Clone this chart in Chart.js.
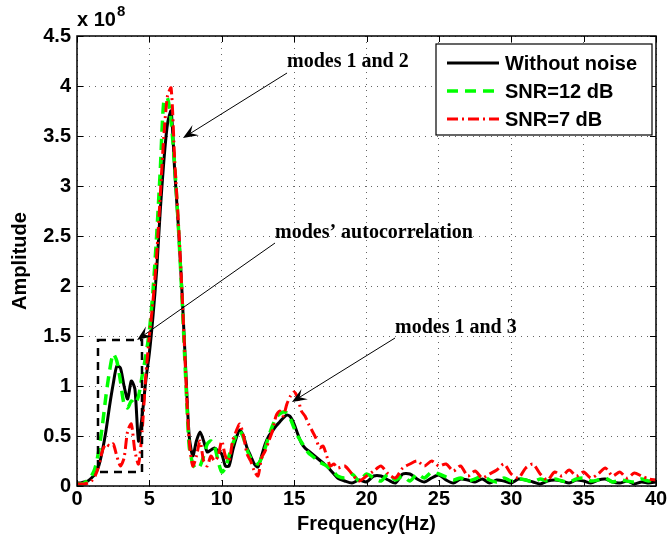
<!DOCTYPE html>
<html>
<head>
<meta charset="utf-8">
<script src="https://cdn.jsdelivr.net/npm/chart.js@4.4.1/dist/chart.umd.min.js"></script>
<style>
  html, body { margin: 0; padding: 0; background: #fff; }
  #wrap { width: 669px; height: 549px; }
</style>
</head>
<body>
<div id="wrap"><canvas id="spectrumChart" width="669" height="549"></canvas></div>
<script>
// frequency axis (Hz)
const freq = [0,0.25,0.5,0.75,1,1.25,1.5,1.75,2,2.25,2.5,2.75,3,3.25,3.5,3.75,4,4.25,4.5,4.75,
  5,5.25,5.5,5.75,6,6.25,6.5,6.75,7,7.25,7.5,7.75,8,8.25,8.5,8.75,9,9.25,9.5,9.75,
  10,10.25,10.5,10.75,11,11.25,11.5,11.75,12,12.25,12.5,12.75,13,13.25,13.5,13.75,14,14.25,14.5,14.75,
  15,15.25,15.5,15.75,16,16.25,16.5,16.75,17,17.25,17.5,17.75,18,
  18.5,19,19.5,20,20.5,21,21.5,22,22.5,23,23.5,24,24.5,25,25.5,26,26.5,27,27.5,28,
  28.5,29,29.5,30,30.5,31,31.5,32,32.5,33,33.5,34,34.5,35,35.5,36,36.5,37,37.5,38,38.5,39,39.5,40];

// amplitudes in units of 1e8
const withoutNoise = [0.03,0.03,0.04,0.05,0.08,0.12,0.2,0.35,0.55,0.8,1.02,1.2,1.18,1.0,0.87,1.05,0.97,0.45,0.7,1.05,
  1.33,1.7,2.15,2.75,3.25,3.62,3.75,3.15,2.6,1.95,1.2,0.5,0.3,0.45,0.54,0.45,0.34,0.36,0.38,0.35,
  0.32,0.2,0.2,0.35,0.48,0.56,0.5,0.38,0.3,0.22,0.19,0.3,0.42,0.5,0.55,0.6,0.64,0.68,0.71,0.69,
  0.62,0.52,0.43,0.38,0.35,0.32,0.29,0.26,0.23,0.2,0.16,0.12,0.08,
  0.05,0.03,0.06,0.04,0.1,0.1,0.06,0.03,0.12,0.12,0.07,0.04,0.08,0.11,0.06,0.03,0.07,0.06,0.04,0.07,
  0.03,0.06,0.05,0.03,0.07,0.06,0.04,0.02,0.05,0.06,0.05,0.03,0.06,0.05,0.03,0.06,0.07,0.04,0.03,0.05,0.02,0.04,0.03,0.04];

const snr12 = [0.02,0.02,0.03,0.06,0.1,0.18,0.35,0.6,0.9,1.15,1.32,1.25,1.05,0.82,0.78,0.85,0.82,0.9,1.1,1.3,
  1.55,1.95,2.5,3.15,3.85,3.88,3.65,3.2,2.6,1.9,1.1,0.4,0.22,0.17,0.2,0.3,0.42,0.45,0.4,0.25,
  0.14,0.18,0.3,0.42,0.5,0.55,0.48,0.36,0.28,0.24,0.22,0.28,0.38,0.5,0.6,0.68,0.72,0.74,0.73,0.67,
  0.58,0.5,0.44,0.38,0.33,0.3,0.27,0.24,0.22,0.2,0.17,0.14,0.1,
  0.08,0.12,0.05,0.12,0.08,0.05,0.12,0.06,0.1,0.05,0.12,0.08,0.14,0.12,0.09,0.06,0.08,0.05,0.07,0.1,
  0.06,0.04,0.08,0.05,0.07,0.06,0.04,0.07,0.05,0.07,0.05,0.04,0.07,0.08,0.05,0.06,0.08,0.04,0.06,0.05,0.04,0.07,0.05,0.07];

const snr7 = [0.02,0.02,0.02,0.03,0.05,0.1,0.2,0.35,0.42,0.4,0.42,0.3,0.2,0.28,0.55,0.62,0.35,0.22,0.55,1.1,
  1.5,1.85,2.3,2.9,3.5,3.9,3.98,3.25,2.65,1.95,1.15,0.45,0.2,0.3,0.45,0.25,0.2,0.3,0.25,0.3,
  0.45,0.3,0.25,0.45,0.55,0.62,0.5,0.32,0.25,0.15,0.1,0.28,0.35,0.45,0.55,0.7,0.75,0.7,0.82,0.9,
  0.94,0.88,0.75,0.7,0.62,0.55,0.48,0.38,0.4,0.3,0.2,0.22,0.18,
  0.2,0.12,0.05,0.1,0.15,0.2,0.12,0.08,0.18,0.22,0.25,0.2,0.25,0.2,0.22,0.15,0.2,0.1,0.15,0.08,
  0.12,0.16,0.22,0.12,0.08,0.18,0.22,0.12,0.06,0.14,0.1,0.16,0.1,0.14,0.08,0.12,0.18,0.1,0.14,0.08,0.13,0.1,0.07,0.06];

const seriesNames = ['Without noise', 'SNR=12 dB', 'SNR=7 dB'];
const xTicks = [0, 5, 10, 15, 20, 25, 30, 35, 40];
const yTicks = [0, 0.5, 1, 1.5, 2, 2.5, 3, 3.5, 4, 4.5];

// annotation text + arrows, in data units
const notes = [
  { text: 'modes 1 and 2', tx: 14.51, ty: 4.24, from: [14.51, 4.13], to: [7.32, 3.48] },
  { text: 'modes\u2019 autocorrelation', tx: 13.68, ty: 2.53, from: [13.68, 2.43], to: [4.15, 1.46] },
  { text: 'modes 1 and 3', tx: 21.97, ty: 1.58, from: [21.97, 1.48], to: [14.85, 0.84] }
];
const boxRegion = { x0: 1.45, x1: 4.49, y0: 0.14, y1: 1.46 };

const sansBold = 'bold 20px "Liberation Sans", Arial, Helvetica, sans-serif';
const serifBold = 'bold 20px "Liberation Serif", "Times New Roman", serif';

function pts(ys) {
  return freq.map((f, i) => ({ x: f, y: ys[i] }));
}

const styles = [
  { color: '#000000', width: 3, dash: [] },
  { color: '#00ff00', width: 3.5, dash: [11, 7] },
  { color: '#ff0000', width: 3, dash: [11, 4, 2, 4] }
];

function arrow(ctx, x1, y1, x2, y2) {
  const ang = Math.atan2(y2 - y1, x2 - x1);
  const len = 15, half = 6;
  ctx.save();
  ctx.strokeStyle = '#000';
  ctx.lineWidth = 1;
  ctx.setLineDash([]);
  ctx.beginPath();
  ctx.moveTo(x1, y1);
  ctx.lineTo(x2 - Math.cos(ang) * 8, y2 - Math.sin(ang) * 8);
  ctx.stroke();
  ctx.translate(x2, y2);
  ctx.rotate(ang);
  ctx.fillStyle = '#000';
  ctx.beginPath();
  ctx.moveTo(0, 0);
  ctx.lineTo(-len, -half);
  ctx.lineTo(-len * 0.6, 0);
  ctx.lineTo(-len, half);
  ctx.closePath();
  ctx.fill();
  ctx.restore();
}

const overlay = {
  id: 'overlay',
  afterDraw(chart) {
    const ctx = chart.ctx;
    const a = chart.chartArea;
    const xs = chart.scales.x, ys = chart.scales.y;

    // dashed region box
    ctx.save();
    ctx.strokeStyle = '#000';
    ctx.lineWidth = 2.5;
    ctx.setLineDash([8, 6]);
    const bx0 = xs.getPixelForValue(boxRegion.x0), bx1 = xs.getPixelForValue(boxRegion.x1);
    const by0 = ys.getPixelForValue(boxRegion.y0), by1 = ys.getPixelForValue(boxRegion.y1);
    ctx.strokeRect(bx0, by1, bx1 - bx0, by0 - by1);
    ctx.restore();

    // annotations
    notes.forEach(n => {
      arrow(ctx, xs.getPixelForValue(n.from[0]), ys.getPixelForValue(n.from[1]),
        xs.getPixelForValue(n.to[0]), ys.getPixelForValue(n.to[1]));
      ctx.save();
      ctx.font = serifBold;
      ctx.fillStyle = '#000';
      ctx.textBaseline = 'middle';
      ctx.textAlign = 'left';
      ctx.fillText(n.text, xs.getPixelForValue(n.tx), ys.getPixelForValue(n.ty));
      ctx.restore();
    });

    // axes box and inward ticks
    ctx.save();
    ctx.strokeStyle = '#000';
    ctx.lineWidth = 1.5;
    ctx.setLineDash([]);
    ctx.strokeRect(a.left, a.top, a.right - a.left, a.bottom - a.top);
    ctx.lineWidth = 1;
    ctx.beginPath();
    xTicks.forEach(v => {
      const px = Math.round(xs.getPixelForValue(v)) + 0.5;
      ctx.moveTo(px, a.bottom); ctx.lineTo(px, a.bottom - 6);
      ctx.moveTo(px, a.top); ctx.lineTo(px, a.top + 6);
    });
    yTicks.forEach(v => {
      const py = Math.round(ys.getPixelForValue(v)) + 0.5;
      ctx.moveTo(a.left, py); ctx.lineTo(a.left + 6, py);
      ctx.moveTo(a.right, py); ctx.lineTo(a.right - 6, py);
    });
    ctx.stroke();
    ctx.restore();

    // legend
    const lx = 436, ly = 44, lw = 216, lh = 91;
    ctx.save();
    ctx.fillStyle = '#fff';
    ctx.fillRect(lx, ly, lw, lh);
    ctx.strokeStyle = '#000';
    ctx.lineWidth = 1.2;
    ctx.strokeRect(lx, ly, lw, lh);
    const rows = [63, 91, 119];
    seriesNames.forEach((name, i) => {
      ctx.strokeStyle = styles[i].color;
      ctx.lineWidth = styles[i].width;
      ctx.setLineDash(styles[i].dash);
      ctx.beginPath();
      ctx.moveTo(447, rows[i]);
      ctx.lineTo(499, rows[i]);
      ctx.stroke();
      ctx.setLineDash([]);
      ctx.fillStyle = '#000';
      ctx.font = sansBold;
      ctx.textBaseline = 'middle';
      ctx.fillText(name, 505, rows[i] + 1);
    });
    ctx.restore();

    // axis titles and exponent
    ctx.save();
    ctx.fillStyle = '#000';
    ctx.font = sansBold;
    ctx.textAlign = 'center';
    ctx.textBaseline = 'middle';
    ctx.fillText('Frequency(Hz)', (a.left + a.right) / 2, 524);
    ctx.translate(20, (a.top + a.bottom) / 2);
    ctx.rotate(-Math.PI / 2);
    ctx.fillText('Amplitude', 0, 0);
    ctx.restore();

    ctx.save();
    ctx.fillStyle = '#000';
    ctx.font = sansBold;
    ctx.textAlign = 'left';
    ctx.textBaseline = 'alphabetic';
    ctx.fillText('x 10', 77, 26);
    const w = ctx.measureText('x 10').width;
    ctx.font = 'bold 15px "Liberation Sans", Arial, sans-serif';
    ctx.fillText('8', 77 + w + 1, 16);
    ctx.restore();
  }
};

const tickFont = { family: '"Liberation Sans", Arial, sans-serif', size: 20, weight: 'bold' };

const ctx = document.getElementById('spectrumChart').getContext('2d');
new Chart(ctx, {
  type: 'line',
  data: {
    datasets: [
      { label: seriesNames[0], data: pts(withoutNoise), borderColor: styles[0].color, borderWidth: styles[0].width,
        borderDash: styles[0].dash, order: 3 },
      { label: seriesNames[1], data: pts(snr12), borderColor: styles[1].color, borderWidth: styles[1].width,
        borderDash: styles[1].dash, order: 2 },
      { label: seriesNames[2], data: pts(snr7), borderColor: styles[2].color, borderWidth: styles[2].width,
        borderDash: styles[2].dash, order: 1 }
    ]
  },
  options: {
    responsive: false,
    animation: false,
    devicePixelRatio: 1,
    layout: { padding: { top: 36, right: 13, left: 0, bottom: 0 } },
    elements: {
      point: { radius: 0, hoverRadius: 0 },
      line: { tension: 0.25, fill: false, borderJoinStyle: 'round' }
    },
    plugins: {
      legend: { display: false },
      tooltip: { enabled: false }
    },
    scales: {
      x: {
        type: 'linear', min: 0, max: 40,
        afterFit(scale) { scale.height = 63; },
        afterBuildTicks(scale) { scale.ticks = xTicks.map(v => ({ value: v })); },
        border: { display: false, dash: [1, 5] },
        grid: { color: 'rgba(0,0,0,0.6)', lineWidth: 1, drawTicks: false },
        ticks: { padding: 1, color: '#000', font: tickFont, maxRotation: 0, callback: v => String(v) }
      },
      y: {
        min: 0, max: 4.5,
        afterFit(scale) { scale.width = 77; },
        afterBuildTicks(scale) { scale.ticks = yTicks.map(v => ({ value: v })); },
        border: { display: false, dash: [1, 5] },
        grid: { color: 'rgba(0,0,0,0.6)', lineWidth: 1, drawTicks: false },
        ticks: { padding: 6, color: '#000', font: tickFont, callback: v => String(v) }
      }
    }
  },
  plugins: [overlay]
});
</script>
</body>
</html>
